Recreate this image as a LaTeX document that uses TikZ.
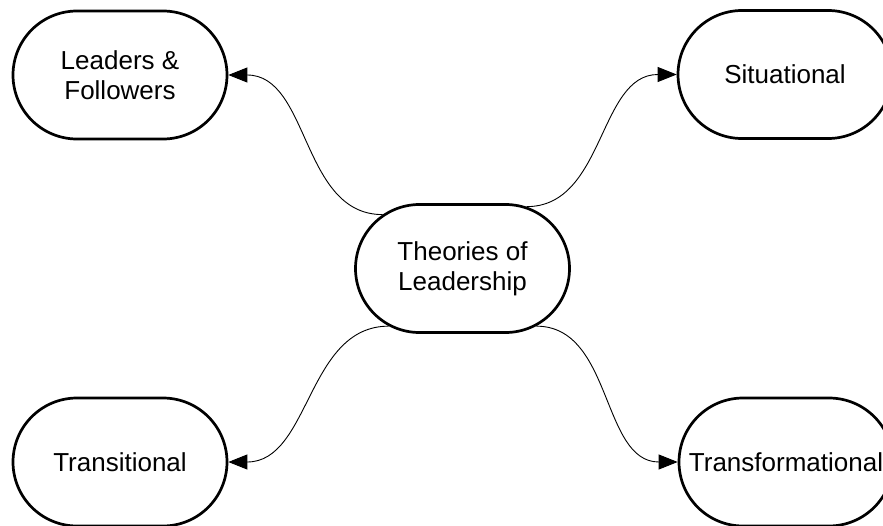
\documentclass[tikz,border=0pt]{standalone}
\usepackage{fontspec}
\setmainfont{Liberation Sans}
\usetikzlibrary{positioning}
\usetikzlibrary{arrows.meta,shapes.misc}
\tikzset{main node/.style={rounded rectangle,draw,line width=2.7pt,minimum width=214pt,minimum height=128pt,inner sep=0pt,align=center,font=\fontsize{26}{30}\selectfont} }

\begin{document}
\begin{tikzpicture}[x=1pt,y=1pt]
\useasboundingbox (0,0) rectangle (883,-525);
\begin{scope}[on grid]

  \node[main node] (theory) at (462.5,-268.5) {Theories of\\Leadership};

  \node[main node] (leaders) [above left =193.5pt and 342.5pt of theory] {Leaders \&\\Followers};
  \node[main node] (situational) [above right =194pt and 322.5pt of theory] {Situational};

  \node[main node] (transitional) [below left =193.5pt and 342.5pt of theory] {Transitional};
  \node[main node] (transformational) [below right =193.5pt and 323.5pt of theory] {Transformational};

    \path[every edge/.style={draw,line width=0.9pt,-{Triangle[length=19pt,width=15pt]}}]

    (theory.146) edge [out=180,in=0] (leaders)
    (theory.44) edge [out=0,in=180] (situational)
    (theory.218) edge [out=180,in=0] (transitional)
    (theory.322) edge [out=0,in=180] (transformational)
    ;
    \end{scope}
\end{tikzpicture}
\end{document}
